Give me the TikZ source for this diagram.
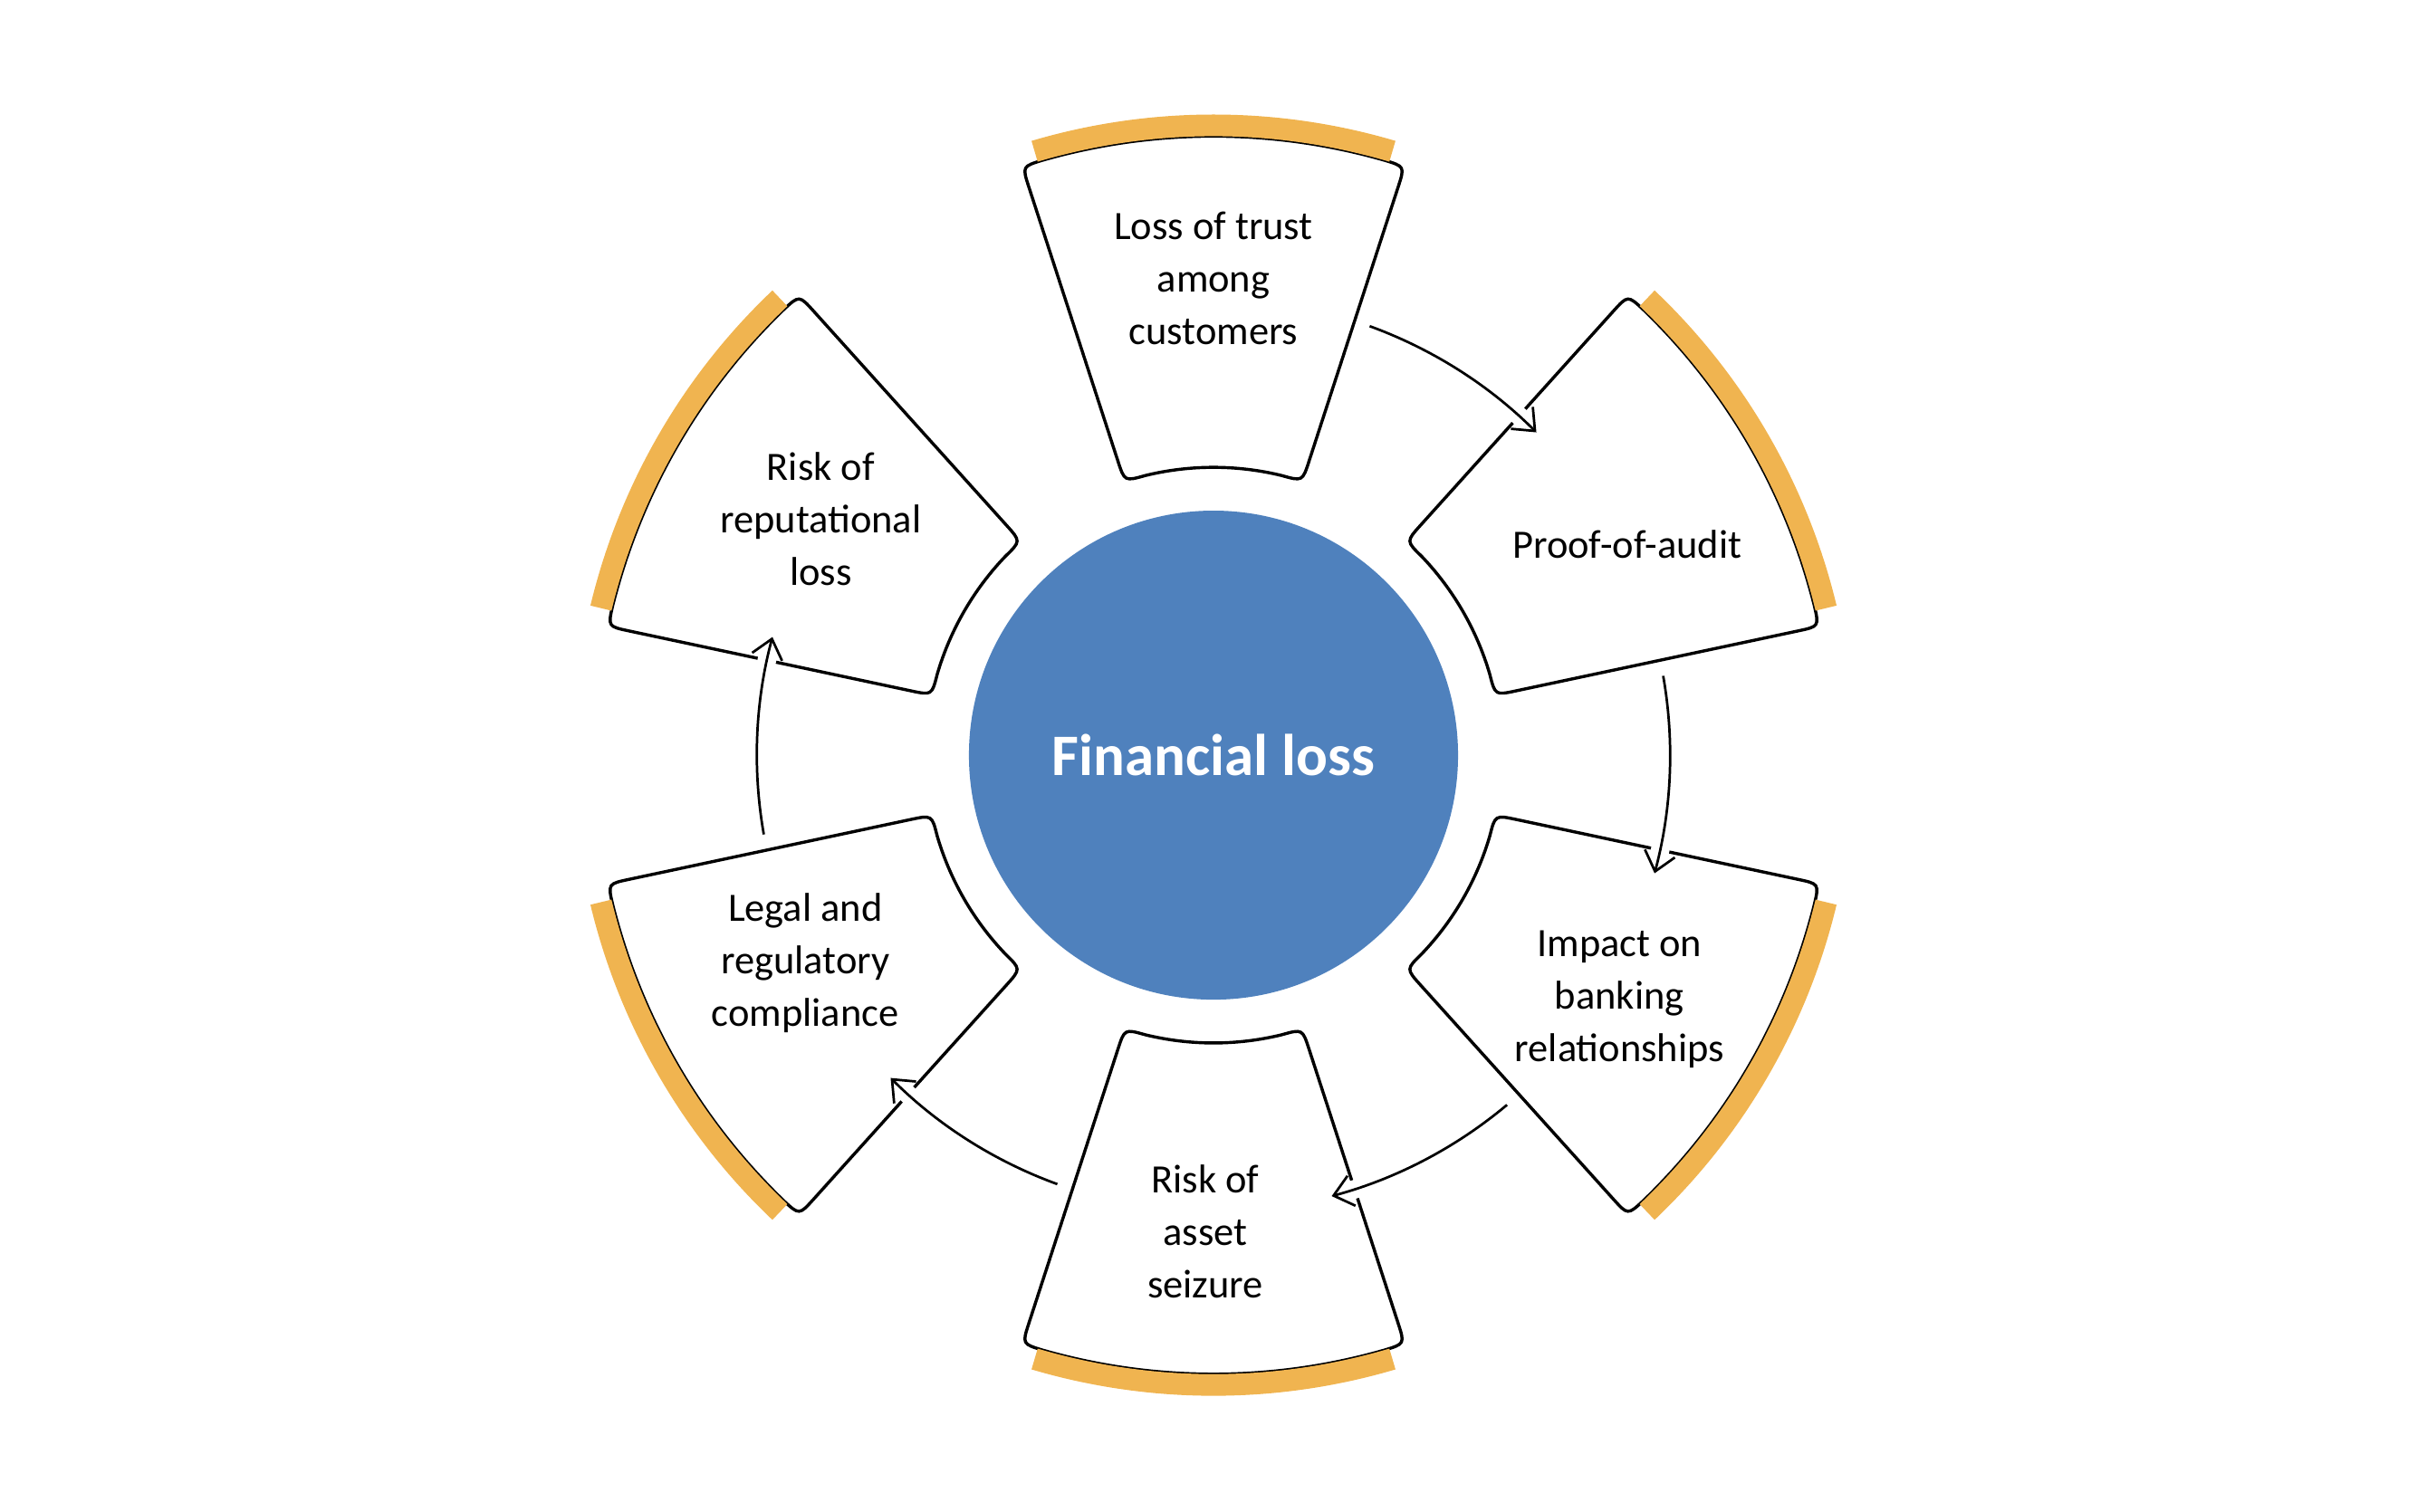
\documentclass[tikz,border=0pt]{standalone}
\usepackage{fontspec}
\setmainfont{Carlito}
\usetikzlibrary{arrows.meta}

\definecolor{hubblue}{HTML}{4F81BD}
\definecolor{rimorange}{HTML}{F0B450}

\begin{document}
\begin{tikzpicture}[seg/.style={draw,line width=1pt},
rim/.style={draw=rimorange,line width=7pt},
flow/.style={-{Straight Barb[length=6pt,width=10pt]},line width=0.8pt,
  preaction={draw=white,line width=6pt,-}},
lbl/.style={align=center,font=\fontsize{13}{17}\selectfont}]
\useasboundingbox (-392pt,-244.5pt) rectangle (392pt,244pt);
% segments round the hub
\foreach \c in {90,30,-30,-90,-150,150}{
  \pgfmathsetmacro\a{\c-18}\pgfmathsetmacro\b{\c+18}
  \path[seg] (\a:100pt) -- (\a:193pt) .. controls (\a:200pt) .. (\a+2:200pt)
    arc[start angle=\a+2,end angle=\b-2,radius=200pt]
    .. controls (\b:200pt) .. (\b:193pt) -- (\b:100pt)
    .. controls (\b:93pt) .. (\b-4.3:93pt)
    arc[start angle=\b-4.3,end angle=\a+4.3,radius=93pt]
    .. controls (\a:93pt) .. (\a:100pt) -- cycle;
  \draw[rim] (\c-16.5:203.5pt) arc[start angle=\c-16.5,end angle=\c+16.5,radius=203.5pt];
}
% arrows between segments
\foreach \c in {90,30,-30,-90,-150}{
  \draw[flow] (\c-20:147.5pt) arc[start angle=\c-20,end angle=\c-45,radius=147.5pt];
}
\node[circle,fill=hubblue,minimum size=158pt,text=white,font=\bfseries\fontsize{19}{22}\selectfont] (hub) {Financial loss};
\node[lbl] (trust) at (90:154pt) {Loss of trust\\among\\customers};
\node[lbl] (audit) at (27:150pt) {Proof-of-audit};
\node[lbl] (bank) at (-31:153pt) {Impact on\\banking\\relationships};
\node[lbl] (seize) at (-91:154pt) {Risk of\\asset\\seizure};
\node[lbl] (legal) at (-153:148pt) {Legal and\\regulatory\\compliance};
\node[lbl] (repute) at (149:148pt) {Risk of\\reputational\\loss};
\end{tikzpicture}
\end{document}
